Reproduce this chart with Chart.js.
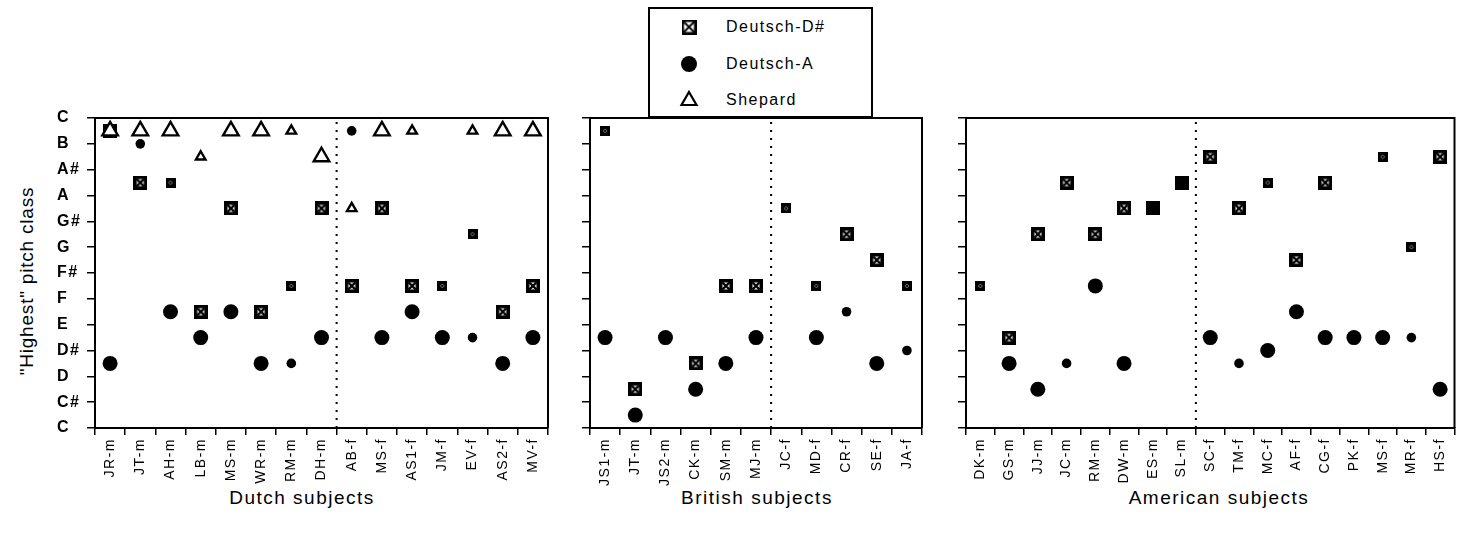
<!DOCTYPE html>
<html lang="en">
<head>
  <meta charset="UTF-8">
  <title>"Highest" pitch class</title>
  <script src="https://cdn.jsdelivr.net/npm/chart.js"></script>
  <style>
    body {
      margin: 0;
      width: 1462px;
      height: 535px;
      position: relative;
      overflow: hidden;
      background: #fff;
      color: #000;
      font-family: 'Liberation Sans', Arial, sans-serif;
    }
    .panel { position: absolute; top: 0; height: 535px; }
    #dutch { left: 0; width: 560px; }
    #british { left: 560px; width: 375px; }
    #american { left: 935px; width: 527px; }

    .ytitle {
      position: absolute;
      left: 27px;
      top: 281px;
      transform: translate(-50%, -50%) rotate(-90deg);
      white-space: nowrap;
      font-size: 19px;
      letter-spacing: 0.8px;
    }
    .xtitle {
      position: absolute;
      top: 498px;
      transform: translate(-50%, -50%);
      white-space: nowrap;
      font-size: 19px;
      letter-spacing: 1.5px;
    }

    .legend {
      position: absolute;
      left: 648px;
      top: 7px;
      width: 221px;
      height: 107px;
      border: 2px solid #000;
      background: #fff;
      z-index: 2;
    }
    .legend canvas { position: absolute; left: 27px; }
    .legend span {
      position: absolute;
      left: 76px;
      font-size: 16px;
      letter-spacing: 1.5px;
      line-height: 20px;
    }
  </style>
</head>
<body>

  <div class="ytitle">"Highest" pitch class</div>
  <div class="xtitle" style="left: 302px;">Dutch subjects</div>
  <div class="xtitle" style="left: 757px;">British subjects</div>
  <div class="xtitle" style="left: 1219px;">American subjects</div>

  <div class="legend" id="legend"></div>

  <canvas class="panel" id="dutch" width="560" height="535"></canvas>
  <canvas class="panel" id="british" width="375" height="535"></canvas>
  <canvas class="panel" id="american" width="527" height="535"></canvas>

  <script>
    // pitch classes on the y axis, 0 = C ... 12 = C
    const pitchLabels = ['C', 'C#', 'D', 'D#', 'E', 'F', 'F#', 'G', 'G#', 'A', 'A#', 'B', 'C'];

    // Dutch subjects
    const dutchSubjects = ['JR-m', 'JT-m', 'AH-m', 'LB-m', 'MS-m', 'WR-m', 'RM-m', 'DH-m',
                           'AB-f', 'MS-f', 'AS1-f', 'JM-f', 'EV-f', 'AS2-f', 'MV-f'];
    const dutchDeutschDs = [11.5, 9.5, 9.5, 4.5, 8.5, 4.5, 5.5, 8.5, 5.5, 8.5, 5.5, 5.5, 7.5, 4.5, 5.5];
    const dutchDeutschA  = [2.5, 11, 4.5, 3.5, 4.5, 2.5, 2.5, 3.5, 11.5, 3.5, 4.5, 3.5, 3.5, 2.5, 3.5];
    const dutchShepard   = [11.5, 11.5, 11.5, 10.5, 11.5, 11.5, 11.5, 10.5, 8.5, 11.5, 11.5, null, 11.5, 11.5, 11.5];

    // British subjects
    const britishSubjects = ['JS1-m', 'JT-m', 'JS2-m', 'CK-m', 'SM-m', 'MJ-m',
                             'JC-f', 'MD-f', 'CR-f', 'SE-f', 'JA-f'];
    const britishDeutschDs = [11.5, 1.5, null, 2.5, 5.5, 5.5, 8.5, 5.5, 7.5, 6.5, 5.5];
    const britishDeutschA  = [3.5, 0.5, 3.5, 1.5, 2.5, 3.5, null, 3.5, 4.5, 2.5, 3];

    // American subjects
    const americanSubjects = ['DK-m', 'GS-m', 'JJ-m', 'JC-m', 'RM-m', 'DW-m', 'ES-m', 'SL-m',
                              'SC-f', 'TM-f', 'MC-f', 'AF-f', 'CG-f', 'PK-f', 'MS-f', 'MR-f', 'HS-f'];
    const americanDeutschDs = [5.5, 3.5, 7.5, 9.5, 7.5, 8.5, 8.5, 9.5, 10.5, 8.5, 9.5, 6.5, 9.5, 3.5, 10.5, 7, 10.5];
    const americanDeutschA  = [null, 2.5, 1.5, 2.5, 5.5, 2.5, 8.5, 9.5, 3.5, 2.5, 3, 4.5, 3.5, 3.5, 3.5, 3.5, 1.5];

    // which subjects get the smaller symbol
    const dutchSmall = {
      ds: ['AH-m', 'RM-m', 'JM-f', 'EV-f'],
      a: ['JT-m', 'RM-m', 'AB-f', 'EV-f'],
      sh: ['LB-m', 'RM-m', 'AB-f', 'AS1-f', 'EV-f']
    };
    const britishSmall = {
      ds: ['JS1-m', 'JC-f', 'MD-f', 'JA-f'],
      a: ['CR-f', 'JA-f'],
      sh: []
    };
    const americanSmall = {
      ds: ['DK-m', 'MC-f', 'PK-f', 'MS-f', 'MR-f'],
      a: ['JC-m', 'ES-m', 'SL-m', 'TM-f', 'MR-f'],
      sh: []
    };

    Chart.defaults.font.family = "'Liberation Sans', Arial, sans-serif";
    Chart.defaults.color = '#000';

    // square with a cross in it (the "Deutsch-D#" symbol)
    function makeSquare(size, inner, lw) {
      const c = document.createElement('canvas');
      c.width = c.height = size;
      const g = c.getContext('2d');
      const m = (size - inner) / 2;
      g.fillStyle = '#000';
      g.fillRect(0, 0, size, size);
      g.fillStyle = '#fff';
      g.fillRect(m, m, inner, inner);
      g.strokeStyle = '#000';
      g.lineWidth = lw;
      g.beginPath();
      g.moveTo(m, m); g.lineTo(m + inner, m + inner);
      g.moveTo(m + inner, m); g.lineTo(m, m + inner);
      g.stroke();
      return c;
    }
    const sqBig = makeSquare(14, 7, 2.4);
    const sqSmall = makeSquare(10, 4, 1.6);
    const sqLegend = makeSquare(15, 10, 1.8);

    // the scan has wide letter spacing
    Chart.register({
      id: 'spacing',
      beforeDraw(chart) { chart.ctx.letterSpacing = '1.5px'; }
    });

    const panelFrame = {
      id: 'panelFrame',
      beforeDatasetsDraw(chart, args, opts) {
        const { ctx, chartArea: a, scales: { x } } = chart;
        const xd = (x.getPixelForValue(opts.split - 1) + x.getPixelForValue(opts.split)) / 2;
        ctx.save();
        ctx.strokeStyle = '#000';
        ctx.lineWidth = 2;
        ctx.setLineDash([2, 6]);
        ctx.beginPath();
        ctx.moveTo(xd, a.top + 4);
        ctx.lineTo(xd, a.bottom);
        ctx.stroke();
        ctx.restore();
      },
      afterDraw(chart) {
        const { ctx, chartArea: a } = chart;
        ctx.save();
        ctx.strokeStyle = '#000';
        ctx.lineWidth = 2;
        ctx.beginPath();
        ctx.moveTo(a.left, a.top);
        ctx.lineTo(a.right, a.top);
        ctx.lineTo(a.right, a.bottom);
        ctx.stroke();
        ctx.restore();
      }
    };

    function makePanel(id, subjects, ds, a, sh, small, split, layout) {
      const isSmall = (list) => (c) => list.includes(subjects[c.dataIndex]);
      const smallDs = isSmall(small.ds), smallA = isSmall(small.a), smallSh = isSmall(small.sh);

      new Chart(document.getElementById(id), {
        type: 'line',
        data: {
          labels: subjects,
          datasets: [
            {
              label: 'Deutsch-D#',
              data: ds,
              order: 3,
              showLine: false,
              pointStyle: (c) => smallDs(c) ? sqSmall : sqBig,
              pointRadius: 6,
              pointBackgroundColor: '#000',
              pointBorderWidth: 0
            },
            {
              label: 'Deutsch-A',
              data: a,
              order: 2,
              showLine: false,
              pointStyle: 'circle',
              pointRadius: (c) => smallA(c) ? 4.8 : 7.5,
              pointBackgroundColor: '#000',
              pointBorderWidth: 0
            },
            {
              label: 'Shepard',
              data: sh,
              order: 1,
              showLine: false,
              pointStyle: 'triangle',
              pointRadius: (c) => smallSh(c) ? 5.5 : 9,
              pointBackgroundColor: '#fff',
              pointBorderColor: '#000',
              pointBorderWidth: 2.4
            }
          ]
        },
        options: {
          responsive: false,
          animation: false,
          events: [],
          layout: { padding: layout.padding },
          plugins: {
            legend: { display: false },
            tooltip: { enabled: false },
            panelFrame: { split: split }
          },
          scales: {
            x: {
              type: 'category',
              offset: true,
              afterFit: (s) => { s.height = 85; },
              grid: { offset: true, drawOnChartArea: false, drawTicks: true, tickLength: 7, color: '#000', lineWidth: 1.5 },
              border: { display: true, color: '#000', width: 2 },
              ticks: { autoSkip: false, minRotation: 90, maxRotation: 90, font: { size: 14 }, padding: 3 }
            },
            y: {
              min: 0,
              max: 12,
              afterFit: (s) => { s.width = layout.yWidth; },
              grid: { drawOnChartArea: false, drawTicks: true, tickLength: 8, color: '#000', lineWidth: 1.5 },
              border: { display: true, color: '#000', width: 2 },
              ticks: {
                stepSize: 1,
                autoSkip: false,
                crossAlign: 'far',
                font: { size: 16, weight: 'bold' },
                callback: (v) => layout.yLabels ? pitchLabels[v] : ''
              }
            }
          }
        },
        plugins: [panelFrame]
      });
    }

    makePanel('dutch', dutchSubjects, dutchDeutschDs, dutchDeutschA, dutchShepard, dutchSmall, 8,
      { padding: { left: 57, right: 12, top: 118, bottom: 22 }, yWidth: 38, yLabels: true });

    makePanel('british', britishSubjects, britishDeutschDs, britishDeutschA, [], britishSmall, 6,
      { padding: { left: 0, right: 13, top: 118, bottom: 22 }, yWidth: 30, yLabels: false });

    makePanel('american', americanSubjects, americanDeutschDs, americanDeutschA, [], americanSmall, 8,
      { padding: { left: 0, right: 2, top: 118, bottom: 22 }, yWidth: 31, yLabels: false });

    // legend box above the British panel
    const legend = document.getElementById('legend');
    const legendRows = [
      { text: 'Deutsch-D#', y: 18 },
      { text: 'Deutsch-A', y: 55 },
      { text: 'Shepard', y: 91 }
    ];
    legendRows.forEach((row, i) => {
      const icon = document.createElement('canvas');
      icon.width = icon.height = 24;
      icon.style.top = (row.y - 12) + 'px';
      const g = icon.getContext('2d');
      if (i === 0) {
        g.drawImage(sqLegend, 4.5, 4.5);
      } else if (i === 1) {
        g.fillStyle = '#000';
        g.beginPath();
        g.arc(12, 12, 8, 0, Math.PI * 2);
        g.fill();
      } else {
        g.fillStyle = '#fff';
        g.strokeStyle = '#000';
        g.lineWidth = 2.2;
        g.beginPath();
        g.moveTo(12, 4);
        g.lineTo(19.5, 17);
        g.lineTo(4.5, 17);
        g.closePath();
        g.fill();
        g.stroke();
      }
      legend.appendChild(icon);

      const label = document.createElement('span');
      label.textContent = row.text;
      label.style.top = (row.y - 10) + 'px';
      legend.appendChild(label);
    });
  </script>

</body>
</html>
